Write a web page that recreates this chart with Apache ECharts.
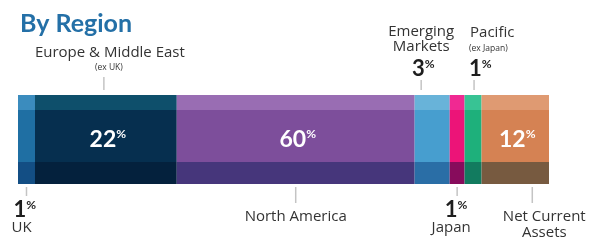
<!DOCTYPE html>
<html>
<head>
<meta charset="utf-8">
<script src="https://cdn.jsdelivr.net/npm/echarts@6/dist/echarts.min.js"></script>
<style>
  html, body { margin: 0; padding: 0; background: #fff; }
  #chart { width: 602px; height: 240px; }
</style>
</head>
<body>
<div id="chart"></div>
<script>
/* regional allocation bar, three shaded bands per block */

var regions = ['UK', 'Europe & Middle East', 'North America', 'Emerging Markets', 'Japan', 'Pacific', 'Net Current Assets'];
var shares = [1, 22, 60, 3, 1, 1, 12];               // printed percentages
var blockWidths = [3.2, 26.7, 44.8, 6.6, 2.8, 3.2, 12.7]; // drawn block widths (not to scale in source)

var topColors = ['#3b8cbe', '#0e4f6b', '#996db3', '#68b3d9', '#f02992', '#38c394', '#df9a72'];
var midColors = ['#1f6fa3', '#062f4f', '#7d4e9b', '#479ecf', '#ec1478', '#1eb07b', '#d58253'];
var lowColors = ['#134e84', '#04213d', '#46367b', '#2a6ea6', '#870c5c', '#127b5f', '#775a40'];

var FONT = 'Lato, "Open Sans", sans-serif';
var LABEL_FONT = '"Open Sans", Lato, sans-serif';
var insideIdx = [1, 2, 6];

var dom = document.getElementById('chart');
var myChart = echarts.init(dom);

// three stacked grids: light top strip, main band, dark bottom strip
var bands = [
  {top: 95, height: 15, colors: topColors},
  {top: 110, height: 52, colors: midColors},
  {top: 162, height: 22, colors: lowColors}
];

var grids = [], xAxes = [], yAxes = [], series = [];
bands.forEach(function (b, bi) {
  grids.push({left: 18, right: 53, top: b.top, height: b.height});
  xAxes.push({type: 'value', gridIndex: bi, min: 0, max: 100, show: false});
  yAxes.push({type: 'category', gridIndex: bi, data: ['r'], show: false});
  regions.forEach(function (name, i) {
    var s = {
      type: 'bar',
      name: name,
      stack: 'band' + bi,
      xAxisIndex: bi,
      yAxisIndex: bi,
      barWidth: '100%',
      silent: true,
      itemStyle: {color: b.colors[i]},
      data: [blockWidths[i]]
    };
    if (bi === 1 && insideIdx.indexOf(i) >= 0) {
      s.label = {
        show: true,
        position: 'inside',
        offset: [2, 4],
        formatter: '{n|' + shares[i] + '}{s|%}',
        rich: {
          n: {fontFamily: FONT, fontSize: 23, fontWeight: 'bold', color: '#fff'},
          s: {fontFamily: FONT, fontSize: 12, fontWeight: 'bold', color: '#fff', verticalAlign: 'top'}
        }
      };
    }
    series.push(s);
  });
});

var option = {
  animation: false,
  title: {
    text: 'By Region',
    left: 15,
    top: 6,
    textStyle: {fontFamily: FONT, fontSize: 25, fontWeight: 'bold', color: '#2470a7'}
  },
  grid: grids,
  xAxis: xAxes,
  yAxis: yAxes,
  series: series
};
myChart.setOption(option);

// outer labels with leader lines, anchored on the bar scale
function blockMid(i) {
  var start = 0;
  for (var k = 0; k < i; k++) start += blockWidths[k];
  return myChart.convertToPixel({xAxisIndex: 0}, start + blockWidths[i] / 2);
}

var g = [];
function leader(x, y1, y2) {
  g.push({type: 'line', shape: {x1: x, y1: y1, x2: x, y2: y2}, style: {stroke: '#c4c4c4', lineWidth: 1.5}, silent: true});
}
function txt(x, y, str, size, align, color) {
  g.push({type: 'text', x: x, y: y, silent: true, style: {
    text: str, fontFamily: LABEL_FONT, fontSize: size, fill: color || '#333',
    align: align || 'center', verticalAlign: 'middle'
  }});
}
function pct(x, y, val, align) {
  g.push({type: 'text', x: x, y: y, silent: true, style: {
    text: '{n|' + val + '}{s|%}',
    align: align || 'center', verticalAlign: 'middle',
    rich: {
      n: {fontFamily: FONT, fontSize: 22, fontWeight: 'bold', fill: '#1e1e1e'},
      s: {fontFamily: FONT, fontSize: 12, fontWeight: 'bold', fill: '#1e1e1e', verticalAlign: 'top'}
    }
  }});
}

// UK
var x = blockMid(0);
leader(x, 187, 196);
pct(x - 13, 210, shares[0], 'left');
txt(x - 15, 228, 'UK', 15, 'left');

// Europe & Middle East
x = blockMid(1) - 2;
leader(x, 77, 90);
txt(x + 6, 53, 'Europe & Middle East', 15);
txt(x + 5, 68, '(ex UK)', 8.5);

// North America
x = blockMid(2);
leader(x, 187, 203);
txt(x, 217, 'North America', 15);

// Emerging Markets
x = blockMid(3) - 11;
leader(x, 80, 90);
txt(x, 32, 'Emerging', 15);
txt(x, 47, 'Markets', 15);
pct(x + 2, 69, shares[3]);

// Japan
x = blockMid(4);
leader(x, 187, 196);
pct(x - 1, 210, shares[4]);
txt(x - 6, 228, 'Japan', 15);

// Pacific
x = blockMid(5) + 1;
leader(x, 80, 90);
txt(x - 4, 33, 'Pacific', 15, 'left');
txt(x - 5, 49, '(ex Japan)', 8.5, 'left');
pct(x - 5, 69, shares[5], 'left');

// Net Current Assets
x = blockMid(6) + 17;
leader(x, 187, 203);
txt(x + 12, 217, 'Net Current', 15);
txt(x + 12, 233, 'Assets', 15);

myChart.setOption({graphic: g});
</script>
</body>
</html>
